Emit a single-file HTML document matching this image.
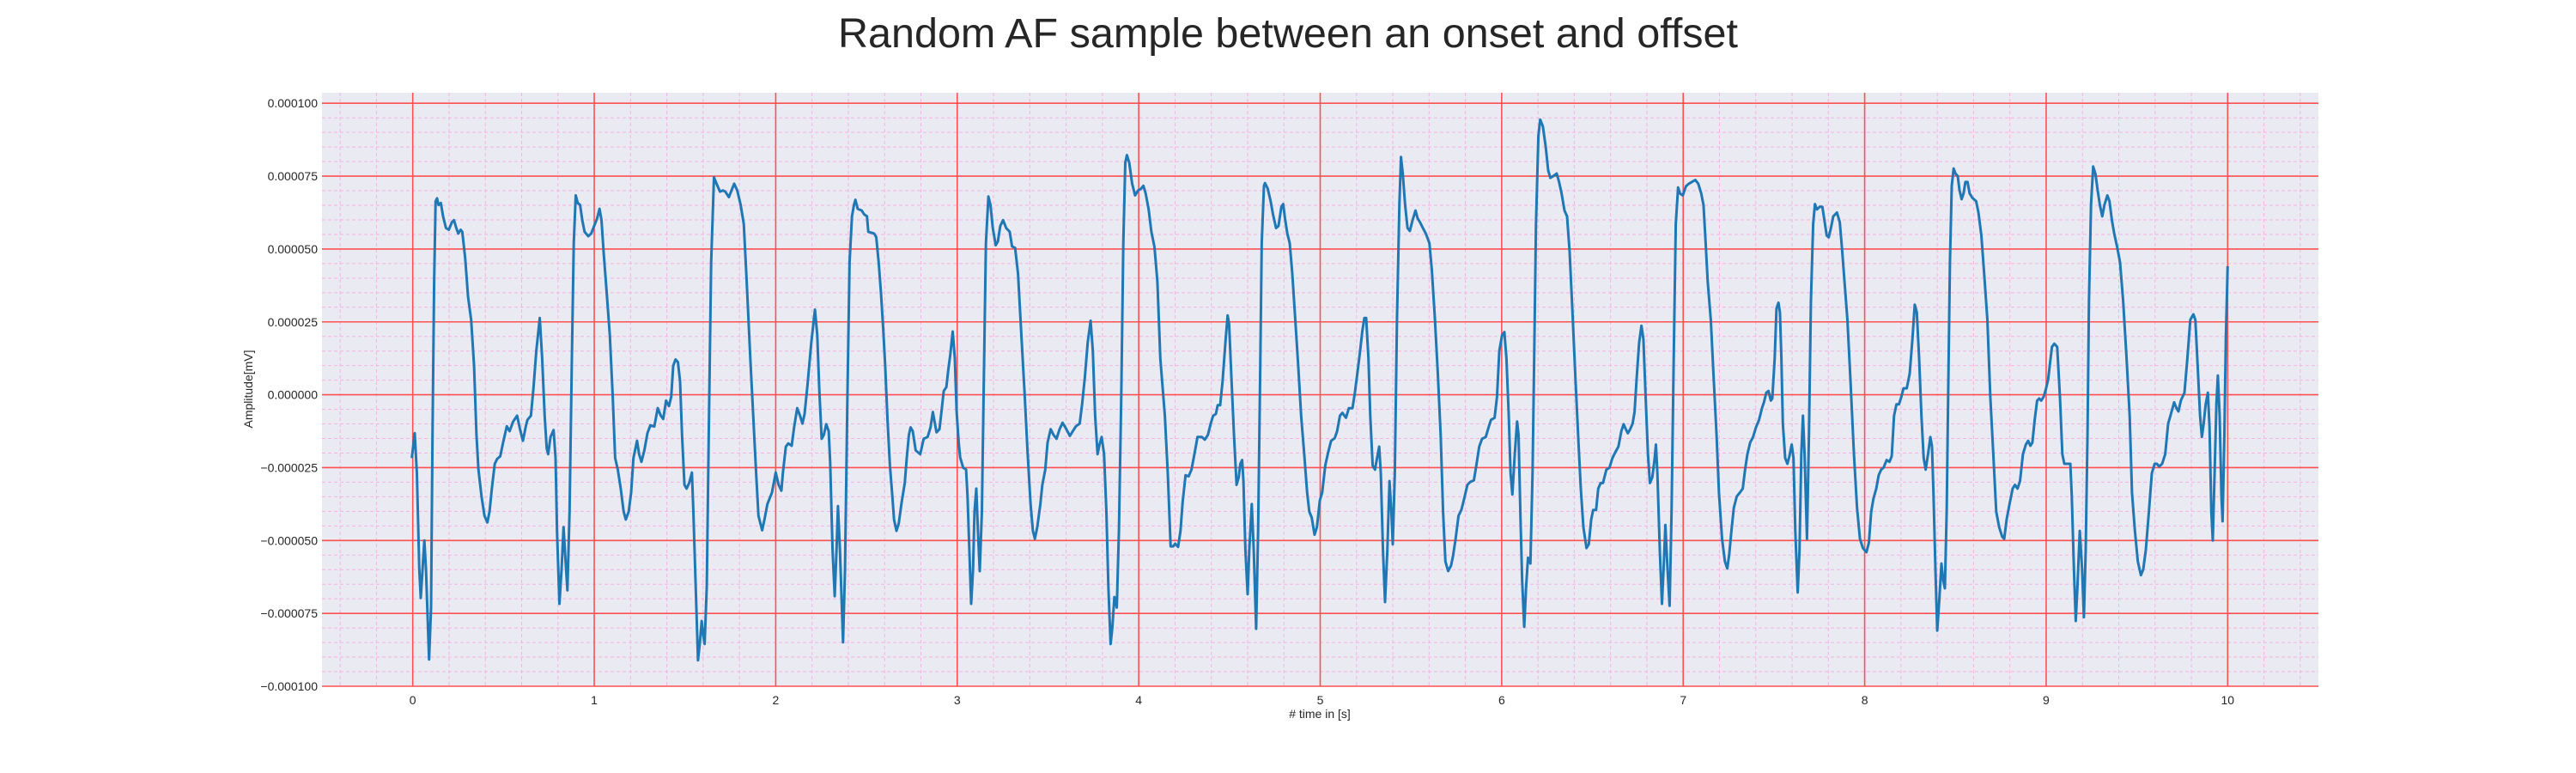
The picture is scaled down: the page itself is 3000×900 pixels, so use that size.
<!DOCTYPE html>
<html><head><meta charset="utf-8"><style>
html,body{margin:0;padding:0;background:#fff;}
svg{display:block;font-family:"Liberation Sans",Arial,sans-serif;}
</style></head><body>
<svg id="chart" width="3000" height="900" viewBox="0 0 3000 900" xmlns="http://www.w3.org/2000/svg">
<text x="1500" y="55" font-size="48" text-anchor="middle" fill="#262626" textLength="1048" lengthAdjust="spacingAndGlyphs">Random AF sample between an onset and offset</text>
<rect x="375" y="108" width="2325" height="691" fill="#eaeaf2"/>
<g id="grid"></g>
<g id="ticks"></g>
<path id="signal" fill="none" stroke="#1f77b4" stroke-width="3" stroke-linejoin="round"/>
<text x="1537" y="836" font-size="14" text-anchor="middle" fill="#262626"># time in [s]</text>
<text transform="translate(294,453) rotate(-90)" font-size="14" text-anchor="middle" fill="#262626">Amplitude[mV]</text>
</svg>
<script>
const xTicks = [0,1,2,3,4,5,6,7,8,9,10];
const yTicks = [-100,-75,-50,-25,0,25,50,75,100];
const yTickLabels = ["\u22120.000100","\u22120.000075","\u22120.000050","\u22120.000025","0.000000","0.000025","0.000050","0.000075","0.000100"];
const timeS = [-0.005,0.011,0.023,0.036,0.044,0.054,0.064,0.073,0.090,0.101,0.109,0.118,0.126,0.134,0.142,0.155,0.167,0.183,0.199,0.216,0.227,0.240,0.251,0.264,0.273,0.289,0.305,0.322,0.338,0.351,0.362,0.379,0.395,0.411,0.423,0.436,0.452,0.465,0.482,0.498,0.518,0.534,0.553,0.575,0.591,0.607,0.624,0.632,0.651,0.665,0.681,0.700,0.713,0.727,0.738,0.746,0.759,0.776,0.787,0.795,0.808,0.820,0.831,0.841,0.852,0.864,0.877,0.887,0.898,0.909,0.922,0.934,0.947,0.967,0.983,1.004,1.016,1.029,1.040,1.053,1.069,1.086,1.102,1.115,1.130,1.146,1.162,1.174,1.190,1.203,1.216,1.236,1.247,1.260,1.276,1.293,1.309,1.331,1.350,1.367,1.380,1.396,1.412,1.424,1.435,1.448,1.461,1.473,1.484,1.497,1.509,1.523,1.538,1.546,1.559,1.572,1.582,1.592,1.600,1.608,1.620,1.631,1.644,1.660,1.674,1.693,1.709,1.722,1.742,1.758,1.771,1.788,1.807,1.824,1.840,1.860,1.876,1.892,1.905,1.925,1.938,1.954,1.979,2.000,2.016,2.031,2.039,2.056,2.069,2.088,2.101,2.118,2.134,2.147,2.159,2.175,2.196,2.216,2.229,2.240,2.253,2.265,2.278,2.292,2.300,2.313,2.325,2.335,2.343,2.354,2.371,2.382,2.395,2.407,2.420,2.431,2.439,2.452,2.474,2.487,2.503,
2.510,2.521,2.542,2.554,2.567,2.580,2.592,2.603,2.616,2.629,2.641,2.652,2.665,2.678,2.694,2.711,2.722,2.734,2.743,2.755,2.771,2.796,2.815,2.837,2.853,2.866,2.877,2.886,2.902,2.913,2.926,2.940,2.951,2.962,2.975,2.987,2.997,3.008,3.016,3.033,3.049,3.057,3.067,3.077,3.087,3.095,3.105,3.114,3.124,3.136,3.147,3.158,3.172,3.183,3.196,3.212,3.224,3.237,3.253,3.270,3.289,3.302,3.319,3.335,3.351,3.371,3.387,3.404,3.417,3.428,3.441,3.458,3.469,3.485,3.498,3.515,3.531,3.547,3.564,3.580,3.596,3.621,3.637,3.654,3.675,3.688,3.703,3.719,3.735,3.747,3.760,3.773,3.784,3.796,3.809,3.822,3.833,3.845,3.855,3.866,3.879,3.891,3.904,3.915,3.926,3.935,3.948,3.964,3.980,3.997,4.013,4.026,4.038,4.054,4.070,4.087,4.103,4.119,4.144,4.160,4.176,4.190,4.201,4.217,4.230,4.242,4.258,4.275,4.291,4.307,4.324,4.348,4.364,4.381,4.397,4.410,4.425,4.435,4.449,4.462,4.479,4.490,4.498,4.511,4.525,4.539,4.551,4.560,4.570,4.577,4.588,4.600,4.609,4.623,4.634,4.647,4.658,4.670,4.678,4.690,4.696,4.711,4.727,4.740,4.757,4.770,4.786,4.796,4.806,4.819,4.832,4.846,4.863,4.879,4.895,4.912,4.928,4.940,4.953,4.969,4.982,4.998,5.011,
5.028,5.044,5.060,5.080,5.093,5.109,5.122,5.142,5.158,5.178,5.191,5.207,5.220,5.232,5.243,5.253,5.266,5.276,5.289,5.302,5.313,5.325,5.334,5.346,5.357,5.370,5.382,5.392,5.400,5.411,5.423,5.436,5.445,5.455,5.468,5.481,5.494,5.509,5.525,5.537,5.550,5.566,5.582,5.602,5.615,5.631,5.648,5.664,5.677,5.690,5.705,5.721,5.732,5.746,5.762,5.778,5.794,5.811,5.827,5.847,5.860,5.876,5.892,5.912,5.928,5.941,5.961,5.974,5.987,6.002,6.015,6.026,6.039,6.049,6.059,6.072,6.085,6.093,6.104,6.113,6.124,6.134,6.145,6.158,6.170,6.179,6.189,6.202,6.212,6.227,6.243,6.256,6.268,6.284,6.303,6.316,6.330,6.346,6.360,6.374,6.390,6.406,6.423,6.436,6.450,6.467,6.480,6.493,6.504,6.520,6.532,6.545,6.558,6.577,6.594,6.610,6.626,6.643,6.659,6.672,6.684,6.695,6.708,6.721,6.732,6.744,6.757,6.770,6.781,6.793,6.806,6.817,6.830,6.842,6.850,6.858,6.871,6.883,6.892,6.902,6.914,6.925,6.936,6.948,6.959,6.972,6.982,6.998,7.015,7.031,7.047,7.067,7.083,7.099,7.112,7.124,7.135,7.152,7.168,7.184,7.197,7.214,7.230,7.243,7.254,7.266,7.279,7.295,7.312,7.328,7.341,7.354,7.369,7.385,7.401,7.418,7.434,7.445,7.458,7.470,7.483,7.491,7.504,7.514,
7.525,7.533,7.541,7.549,7.562,7.574,7.585,7.598,7.608,7.618,7.631,7.641,7.651,7.660,7.669,7.682,7.693,7.704,7.716,7.726,7.737,7.753,7.767,7.778,7.791,7.802,7.814,7.827,7.847,7.863,7.876,7.889,7.905,7.922,7.941,7.958,7.974,7.990,8.010,8.023,8.036,8.049,8.064,8.077,8.091,8.104,8.121,8.137,8.149,8.162,8.175,8.189,8.202,8.214,8.232,8.248,8.263,8.276,8.287,8.300,8.313,8.325,8.336,8.349,8.362,8.371,8.379,8.390,8.400,8.411,8.423,8.433,8.442,8.452,8.460,8.470,8.480,8.490,8.500,8.513,8.522,8.534,8.545,8.555,8.567,8.578,8.594,8.614,8.627,8.643,8.660,8.676,8.692,8.709,8.725,8.741,8.758,8.769,8.782,8.798,8.815,8.828,8.842,8.856,8.872,8.888,8.901,8.913,8.924,8.937,8.950,8.962,8.973,8.986,8.999,9.011,9.022,9.032,9.045,9.061,9.076,9.089,9.100,9.117,9.133,9.141,9.153,9.163,9.172,9.185,9.198,9.208,9.218,9.228,9.236,9.247,9.259,9.272,9.283,9.296,9.309,9.321,9.337,9.349,9.362,9.375,9.391,9.407,9.424,9.443,9.460,9.473,9.489,9.505,9.522,9.535,9.549,9.566,9.582,9.598,9.610,9.623,9.639,9.656,9.672,9.685,9.705,9.718,9.729,9.742,9.762,9.778,9.794,9.811,9.822,9.835,9.848,9.858,9.868,9.879,9.891,9.900,9.910,9.918,9.928,9.938,9.946,9.956,9.966,9.972,9.982,9.990,10.000];
const amplitudeUV = [-21.7,-13.2,-27.0,-59.9,-69.7,-59.9,-50.0,-59.9,-90.8,-73.0,-13.8,38.8,66.4,67.4,65.1,65.8,61.2,57.2,56.6,59.2,59.9,57.2,55.3,56.6,55.9,46.7,33.6,25.7,9.9,-13.8,-25.7,-34.9,-41.5,-43.8,-40.1,-32.2,-23.7,-22.0,-21.1,-16.4,-10.8,-12.5,-9.2,-7.2,-11.8,-15.8,-10.5,-8.6,-7.2,2.0,15.1,26.3,12.5,-7.2,-18.4,-20.4,-14.5,-12.1,-21.7,-46.7,-71.7,-59.9,-45.4,-55.9,-67.1,-40.1,12.5,52.0,68.4,65.8,65.1,59.9,55.9,54.4,55.3,58.6,60.5,63.8,59.9,48.0,34.9,20.4,-0.7,-21.7,-25.7,-32.2,-40.1,-42.8,-40.1,-33.6,-21.7,-15.8,-20.4,-23.0,-19.1,-13.2,-10.5,-10.9,-4.6,-7.2,-8.3,-2.0,-3.9,-0.7,9.9,12.1,11.2,4.6,-13.8,-30.9,-32.2,-30.3,-26.7,-40.1,-65.8,-91.1,-84.9,-77.6,-82.2,-85.5,-65.8,-13.8,45.4,74.6,72.4,69.7,70.1,69.7,67.8,70.4,72.4,70.1,65.1,58.6,38.8,12.5,-7.2,-27.0,-41.5,-46.5,-42.8,-37.5,-33.6,-26.7,-30.9,-32.9,-27.0,-17.8,-16.7,-17.5,-11.2,-4.6,-7.2,-9.9,-6.6,3.3,17.8,29.2,20.4,2.0,-15.1,-13.8,-10.1,-12.5,-23.0,-53.3,-69.1,-53.3,-38.2,-53.3,-84.9,-59.9,-0.7,45.4,61.2,65.1,66.9,63.8,63.2,61.9,61.2,
55.9,55.7,55.3,54.0,45.4,34.9,23.0,9.9,-8.6,-24.3,-33.6,-42.8,-46.7,-44.1,-36.8,-30.3,-21.7,-13.8,-11.2,-12.5,-19.1,-20.4,-15.1,-14.5,-11.2,-5.9,-9.9,-12.9,-11.8,-5.9,1.3,2.6,8.6,13.8,21.7,12.5,-5.9,-16.4,-21.5,-25.0,-25.7,-34.9,-53.3,-71.7,-59.9,-40.1,-32.2,-46.7,-60.5,-40.1,5.9,52.0,68.0,65.1,57.2,51.3,52.6,57.9,59.9,57.2,55.9,50.9,50.4,41.5,23.0,0.7,-19.1,-37.5,-46.7,-49.4,-45.4,-37.5,-30.9,-25.7,-16.4,-11.8,-13.8,-15.1,-11.8,-9.6,-11.2,-14.1,-12.5,-10.8,-9.9,-3.3,5.9,17.8,25.4,15.1,-7.2,-20.4,-17.1,-14.5,-20.4,-40.1,-65.8,-85.5,-79.6,-69.4,-73.0,-46.7,-0.7,52.0,79.6,82.2,79.6,72.4,68.4,70.1,70.7,71.7,69.1,63.8,55.9,50.7,38.8,12.5,-7.2,-27.0,-52.0,-52.0,-51.1,-52.2,-46.7,-36.8,-27.6,-28.0,-25.7,-20.4,-14.5,-14.5,-15.4,-13.8,-9.9,-7.2,-6.6,-3.6,-3.6,4.6,19.1,27.2,24.3,5.9,-13.8,-30.9,-28.3,-23.7,-22.4,-29.6,-53.3,-68.4,-53.3,-37.5,-53.3,-80.3,-46.7,12.5,52.0,71.7,72.6,70.7,66.4,61.9,57.2,57.9,64.5,65.4,60.5,55.3,52.0,41.5,25.7,9.9,-7.2,-20.4,-33.6,-40.1,-42.1,-48.0,-45.4,-36.2,-33.6,
-24.3,-19.7,-15.8,-14.9,-12.5,-7.2,-6.2,-7.9,-4.6,-4.6,0.7,8.6,15.1,21.7,26.3,26.3,12.5,-7.2,-24.3,-25.7,-21.7,-17.8,-27.0,-53.3,-71.1,-53.3,-29.6,-40.1,-51.3,-27.0,25.7,65.1,81.6,75.7,65.1,57.2,56.2,59.9,63.2,60.5,59.2,57.2,55.3,52.0,42.8,27.0,7.2,-13.8,-40.1,-57.2,-60.5,-58.6,-55.3,-49.4,-41.5,-39.5,-35.5,-30.9,-29.9,-29.3,-24.3,-17.8,-15.1,-14.5,-11.2,-8.6,-7.9,-0.7,15.1,20.4,21.5,12.5,-7.2,-27.0,-34.2,-20.4,-9.2,-13.8,-42.8,-63.8,-79.6,-66.4,-55.9,-57.9,-27.0,12.5,58.6,88.8,94.4,92.1,84.9,77.0,74.4,75.0,75.9,73.0,69.1,63.2,61.2,49.4,28.3,5.9,-16.4,-32.2,-45.4,-52.6,-51.3,-42.8,-39.5,-39.5,-32.2,-30.3,-30.3,-25.7,-25.0,-21.7,-19.7,-17.8,-12.5,-10.1,-11.8,-13.2,-11.8,-9.9,-5.9,5.9,17.8,23.7,19.1,-0.7,-20.4,-30.3,-28.3,-22.4,-17.1,-27.0,-53.3,-71.7,-59.9,-44.7,-59.9,-72.4,-40.1,12.5,58.6,71.1,69.1,68.4,71.5,72.4,73.0,73.7,72.4,69.1,65.1,52.0,38.8,25.7,5.9,-13.8,-33.6,-49.4,-57.2,-59.6,-54.6,-46.7,-38.8,-34.9,-33.6,-32.2,-25.7,-20.4,-16.4,-14.5,-11.2,-8.6,-4.6,-2.6,0.7,1.3,-2.0,-1.3,12.5,29.6,
31.6,28.3,12.5,-9.9,-21.7,-23.7,-21.1,-17.1,-21.7,-46.7,-67.8,-53.3,-20.4,-7.2,-20.4,-49.4,-13.8,32.2,58.6,65.4,63.6,64.5,64.5,59.9,54.6,54.0,57.2,61.2,62.5,59.2,49.4,38.8,25.7,4.6,-20.4,-38.8,-49.4,-52.6,-54.0,-50.7,-40.1,-35.5,-32.2,-27.6,-25.7,-25.0,-22.4,-23.0,-21.1,-7.2,-3.3,-3.3,-0.7,2.2,2.2,7.2,19.1,30.9,28.3,12.5,-7.2,-21.7,-25.7,-20.4,-14.5,-17.8,-33.6,-59.9,-80.9,-70.4,-57.9,-63.8,-66.4,-40.1,-0.7,45.4,71.7,77.6,75.9,75.0,70.4,67.1,69.1,73.0,73.0,69.1,67.5,66.4,62.5,54.6,40.1,25.7,-0.7,-20.4,-40.1,-45.4,-48.7,-49.4,-42.8,-37.5,-32.2,-30.9,-32.2,-29.6,-20.4,-17.1,-15.8,-17.5,-16.4,-8.6,-2.0,-1.3,-2.0,-0.7,2.0,5.3,11.2,16.4,17.5,16.4,-0.7,-20.4,-23.7,-23.7,-23.7,-34.9,-59.9,-77.6,-66.4,-46.7,-59.9,-76.3,-53.3,-13.8,32.2,65.1,78.3,75.7,70.4,65.1,61.2,65.1,68.4,66.4,59.9,55.3,50.7,45.4,32.2,12.5,-7.2,-33.6,-46.7,-57.2,-61.9,-59.9,-53.3,-40.1,-27.0,-23.7,-23.7,-24.6,-23.7,-20.4,-9.9,-7.2,-2.6,-4.6,-5.7,-2.0,0.7,12.5,25.7,27.6,25.7,9.9,-7.2,-14.5,-9.9,-3.3,0.7,-11.2,-40.1,-50.0,-27.0,-3.3,6.6,-7.2,-34.9,-43.4,-13.8,19.1,44.1];

const NS = "http://www.w3.org/2000/svg";
const PL = 375, PR = 2700, PT = 108, PB = 799;
const X0 = -0.5, X1 = 10.5, Y0 = -100, Y1 = 103.6;
function xs(t){ return PL + (t - X0) / (X1 - X0) * (PR - PL); }
function ys(v){ return PB - (v - Y0) / (Y1 - Y0) * (PB - PT); }
function mk(tag, attrs, parent){ const e = document.createElementNS(NS, tag); for (const k in attrs) e.setAttribute(k, attrs[k]); parent.appendChild(e); return e; }

const grid = document.getElementById('grid');
const ticks = document.getElementById('ticks');
for (let i = Math.ceil(X0 / 0.2); i * 0.2 <= X1 + 1e-9; i++) {
  const t = i * 0.2;
  if (Math.abs(t - Math.round(t)) < 1e-6) continue;
  const l = mk('line', {x1: xs(t), x2: xs(t), y1: PT, y2: PB, stroke: '#f5b3e3', 'stroke-width': 1, 'stroke-dasharray': '4,3'}, grid);
  
  
}
for (let v = -95; v <= Y1; v += 5) {
  if (v % 25 === 0) continue;
  const l = mk('line', {x1: PL, x2: PR, y1: ys(v), y2: ys(v), stroke: '#f5b3e3', 'stroke-width': 1, 'stroke-dasharray': '4,3'}, grid);
  
  
}
xTicks.forEach(t => {
  const l = mk('line', {x1: xs(t), x2: xs(t), y1: PT, y2: PB, stroke: '#ff5050', 'stroke-width': 1.6}, grid);
  
  
  const tx = mk('text', {x: xs(t), y: 820, 'font-size': 14, 'text-anchor': 'middle', fill: '#262626'}, ticks);
  tx.textContent = String(t);
  
  
});
yTicks.forEach((v, i) => {
  const l = mk('line', {x1: PL, x2: PR, y1: ys(v), y2: ys(v), stroke: '#ff5050', 'stroke-width': 1.6}, grid);
  
  
  const tx = mk('text', {x: 370, y: ys(v) + 5, 'font-size': 14, 'text-anchor': 'end', fill: '#262626'}, ticks);
  tx.textContent = yTickLabels[i];
  
  
});
let d = '';
const n = Math.min(timeS.length, amplitudeUV.length);
for (let i = 0; i < n; i++) {
  d += (i ? 'L' : 'M') + xs(timeS[i]).toFixed(1) + ',' + ys(amplitudeUV[i]).toFixed(1);
}
document.getElementById('signal').setAttribute('d', d);
</script>
</body></html>
